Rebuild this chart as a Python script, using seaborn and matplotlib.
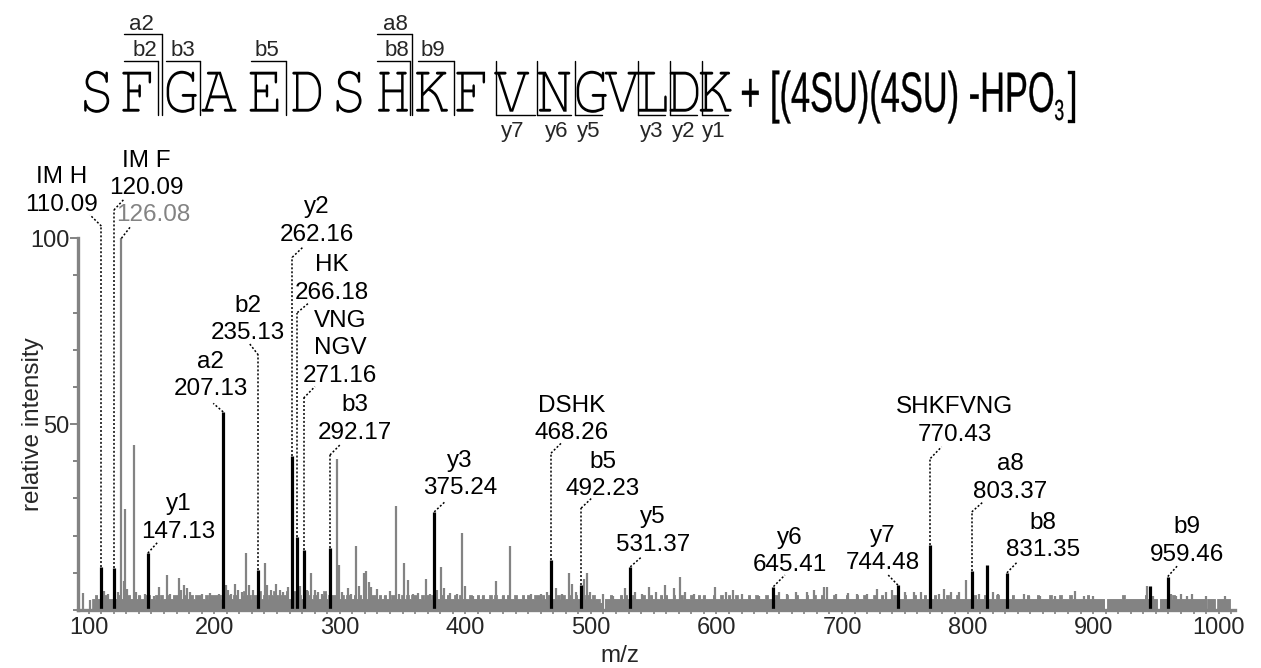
import numpy as np
import matplotlib
matplotlib.use("Agg")
import matplotlib.pyplot as plt
import seaborn as sns
from matplotlib import font_manager
from matplotlib.lines import Line2D
from matplotlib.patches import PathPatch
from matplotlib.textpath import TextPath
from matplotlib.font_manager import FontProperties
from matplotlib.transforms import Affine2D
from matplotlib.ticker import MultipleLocator

# ---- data ----
# matched fragment peaks (black)
black_mz = [110.09, 120.09, 147.13, 207.13, 235.13, 262.16, 266.18, 271.16, 292.17, 375.24,
            468.26, 492.23, 531.37, 645.41, 744.48, 770.43, 803.37, 815.7, 831.35, 945.4, 959.46]
black_h = [11.5, 11.4, 15.3, 53.3, 10.8, 41.4, 19.7, 16.1, 16.6, 26.4,
           13.5, 6.7, 11.6, 6.3, 6.7, 17.5, 10.6, 12.1, 10.0, 6.5, 9.0]

# unmatched peaks (gray)
gray_mz = [95.8, 101, 112.5, 115, 123.5, 126.08, 128.0, 129.2, 130.5, 132,
           136.4, 138, 141, 145, 152, 155.8, 162.5, 165, 171.7, 173.5,
           175.7, 178, 181, 190, 197, 204, 209, 211, 213, 216.5,
           219, 222, 225.6, 227.5, 231, 240.5, 242, 245, 249.5, 252,
           255, 258.8, 268.5, 274, 277, 280, 283, 286, 289, 297.7,
           299, 302, 306.3, 309, 312.9, 315, 319.1, 320.9, 323, 325,
           330, 336, 340, 344.9, 347, 351.5, 354.7, 358, 362, 368.8,
           372, 377.5, 380.3, 383, 388, 393, 397.4, 400, 406, 414,
           424.2, 430, 435.4, 440, 452, 460, 465, 472, 477, 482.8,
           485, 488, 494.5, 496.7, 499, 510, 518, 527, 535, 541,
           546, 552, 559.2, 566, 571.2, 575, 582, 590, 599.2, 608,
           613, 620, 634, 650, 656, 663, 672, 678, 685.8, 688,
           695, 705, 712, 720, 727.8, 735, 740, 750, 757, 763,
           777, 781, 787, 793, 798.4, 809, 820, 824, 845, 849,
           858, 870, 885.5, 893, 900, 943, 948, 962, 966, 970,
           975, 979, 990, 1005]
gray_h = [4.7, 2.6, 5.2, 4.4, 4.9, 100, 7.9, 27.2, 5.6, 3.9,
          44.5, 4.9, 3.9, 4.2, 3.9, 6.2, 9.4, 4.4, 8.5, 5.4,
          6.8, 5.9, 4.9, 4.2, 4.7, 4.4, 6.8, 5.4, 4.4, 7.1,
          5.4, 4.9, 15.3, 6.8, 5.4, 12.7, 6.8, 5.4, 7.1, 5.4,
          4.9, 6.2, 6.4, 5.4, 9.9, 5.4, 4.9, 4.4, 4.4, 40.5,
          12.1, 4.9, 6.0, 4.4, 17.2, 6.4, 10.0, 10.6, 7.4, 6.1,
          5.7, 3.9, 5.0, 28.0, 4.4, 12.7, 8.2, 4.4, 4.7, 8.3,
          4.4, 5.4, 11.5, 5.9, 4.7, 4.2, 20.7, 6.4, 3.9, 3.9,
          7.9, 3.9, 17.2, 3.9, 4.2, 4.4, 4.9, 5.9, 4.4, 9.9,
          6.9, 4.9, 8.4, 10.0, 4.9, 4.2, 3.9, 6.0, 4.9, 4.4,
          6.2, 4.9, 6.8, 5.9, 8.8, 4.9, 4.4, 3.9, 6.2, 4.9,
          5.4, 4.4, 3.9, 4.9, 4.4, 4.9, 4.9, 5.4, 6.1, 6.1,
          4.4, 4.7, 4.4, 4.4, 5.7, 4.9, 5.4, 4.9, 4.9, 4.9,
          4.4, 5.6, 4.9, 4.9, 8.0, 4.4, 4.9, 4.4, 4.4, 3.9,
          3.9, 3.9, 5.1, 3.9, 3.9, 6.4, 3.9, 4.4, 3.9, 4.2,
          3.9, 4.4, 3.9, 3.9]

# noise floor, one digit per 2 m/z starting at m/z 92 (height in % units)
floor_digits = ("0000"
                "0034334433" "4343334343" "4334433434" "3343443343" "3434433434"
                "4443454344" "3454434453" "4344543445" "3454434543" "4434534443"
                "3434434343" "4334434343" "3443343434" "4334343443" "3434334343"
                "3343343433" "4343343433" "4334343344" "3434433434" "3343433434"
                "3433203343" "3343433433" "3433433343" "4334334333" "4334343334"
                "3343343343" "3334334333" "4333433343" "3343334334" "3343333433"
                "3343334334" "3334334333" "3433343334" "3334333433" "3343334333"
                "3334333433" "3343333343" "3333433343" "3334333433" "3433333343"
                "3333303333" "3343333333" "3433330333" "3343333333" "3333303330"
                "333330")
floor_h = [int(c) for c in floor_digits]
floor_mz = [92 + 2 * i for i in range(len(floor_h))]

# annotated peaks
ann_mz = [110.09, 120.09, 126.08, 147.13, 207.13, 235.13, 262.16, 266.18, 271.16, 292.17,
          375.24, 468.26, 492.23, 531.37, 645.41, 744.48, 770.43, 803.37, 831.35, 959.46]
ann_ion = ["IM H", "IM F", "", "y1", "a2", "b2", "y2", "HK", "VNG\nNGV", "b3",
           "y3", "DSHK", "b5", "y5", "y6", "y7", "SHKFVNG", "a8", "b8", "b9"]

# label placement: text x, text y (number line), elbow y, leader end x, leader end y
ann_pos = [(78.5, 109.0, 103.3, 101.0, 106.3), (146.2, 113.5, 107.6, 128.1, 110.5),
           (151.4, 106.3, None, 133.7, 103.3), (171.4, 21.1, None, 155.4, 18.4),
           (197.2, 59.4, None, 199.2, 55.6), (227.1, 74.4, 68.6, 228.0, 71.7),
           (281.6, 100.9, 94.9, 270.9, 97.7), (294.0, 85.4, 80.0, 274.9, 82.5),
           (300.1, 63.0, 57.0, 280.2, 60.1), (312.1, 47.7, 41.7, 300.1, 44.4),
           (395.7, 32.7, None, 383.7, 29.1), (484.6, 47.5, 42.2, 476.7, 45.0),
           (509.3, 32.5, 27.4, 500.6, 30.1), (549.6, 17.5, None, 540.4, 14.3),
           (658.5, 12.1, None, 654.5, 9.4), (732.8, 12.6, None, 736.8, 9.4),
           (789.9, 47.1, 40.8, 779.3, 43.9), (833.7, 31.8, 26.4, 812.4, 29.1),
           (860.2, 16.1, None, 839.0, 12.7), (974.4, 14.8, None, 967.7, 12.1)]

# peptide header
seq_letters = list("SFGAEDSHKFVNGVLDK")
seq_x = [96.7, 136.7, 181.7, 219, 264, 306.7, 349, 393, 432, 470.7,
         511.7, 554, 591.7, 622.3, 652.3, 684, 715.7]
nterm_ions = ["a2", "b2", "b3", "b5", "a8", "b8", "b9"]
nterm_box = [(124, 161.7, 34, 141.7, 25), (124, 158.3, 61, 145, 50), (166, 200, 61, 183, 50),
             (251, 286.3, 61, 267, 50), (376.7, 412.3, 34, 395, 25), (376.7, 409.7, 61, 397, 50),
             (418.3, 454.3, 61, 433, 50)]
cterm_ions = ["y7", "y6", "y5", "y3", "y2", "y1"]
cterm_box = [(495.7, 535, 513), (537.3, 571, 556.7), (575, 601.7, 588.3),
             (638.3, 665, 651.7), (670, 696.7, 683.3), (701.7, 727.7, 714)]

GRAY = "#838383"

sns.set_theme(style="ticks")
plt.rcParams['font.family'] = ['Liberation Sans', 'DejaVu Sans']

# slab/serif face for the sequence letters
installed = {f.name for f in font_manager.fontManager.ttflist}
serif = next(n for n in ["FreeMono", "Nimbus Mono PS", "Courier New", "Liberation Serif",
                         "DejaVu Serif"] if n in installed)

W, H, DPI = 1261, 668, 100
fig = plt.figure(figsize=(W / DPI, H / DPI), dpi=DPI)
ax = fig.add_axes([78 / W, 58 / H, 1157 / W, 371.7 / H])

# spectrum: noise floor as a stepped band, then the individual peaks
sns.lineplot(x=floor_mz, y=floor_h, drawstyle="steps-mid", color=GRAY, lw=0.6, ax=ax)
ax.fill_between(floor_mz, floor_h, step="mid", color=GRAY, lw=0)
ax.vlines(gray_mz, 0, gray_h, color=GRAY, lw=1.6)
ax.vlines(black_mz, 0, black_h, color="black", lw=2.3)

peak_h = dict(zip(black_mz, black_h))
peak_h.update({m: h for m, h in zip(gray_mz, gray_h) if m == 126.08})

dots = dict(color="black", lw=1.1, linestyle=(0, (1.3, 1.3)), clip_on=False)
gap = 7.4
for mz, ion, (tx, ty, elbow, ex, ey) in zip(ann_mz, ann_ion, ann_pos):
    top = peak_h[mz]
    if elbow is not None:
        ax.plot([mz, mz], [top, elbow], **dots)
        top = elbow
    ax.plot([mz, ex], [top, ey], **dots)
    col = GRAY if mz == 126.08 else "black"
    lines = [f"{mz:.2f}"] + (ion.split("\n")[::-1] if ion else [])
    for i, s in enumerate(lines):
        ax.text(tx, ty + i * gap, s, ha="center", va="center", fontsize=17.5, color=col)

ax.set_xlim(91.5, 1013)
ax.set_ylim(0, 100)
ax.set_xticks(np.arange(100, 1001, 100))
ax.set_xticklabels([str(v) for v in range(100, 1001, 100)])
ax.xaxis.set_minor_locator(MultipleLocator(10))
ax.set_yticks([50, 100])
ax.yaxis.set_minor_locator(MultipleLocator(10))
ax.tick_params(axis="x", which="both", length=3, width=1.2, color=GRAY, labelsize=17, pad=2)
ax.tick_params(axis="y", which="major", length=5.5, width=1.4, color=GRAY, labelsize=17, pad=0.5)
ax.tick_params(axis="y", which="minor", length=3.5, width=1.4, color=GRAY)
sns.despine(ax=ax)
for side in ["left", "bottom"]:
    ax.spines[side].set_color(GRAY)
    ax.spines[side].set_linewidth(2.4)

ax.set_xlabel("m/z", fontsize=17.5)
ax.set_ylabel("relative intensity", fontsize=17.5)
ax.xaxis.set_label_coords(0.4685, -0.094)
ax.yaxis.set_label_coords(-0.029, 0.5)

# ---- header: peptide sequence with fragment brackets ----
px_to_disp = Affine2D().scale(1 / DPI) + fig.dpi_scale_trans


def path_text(s, x, y_base, cap, sx, family, ha="left", edge=0):
    fp = FontProperties(family=family)
    tp = TextPath((0, 0), s, size=1, prop=fp)
    k = cap / TextPath((0, 0), "H", size=1, prop=fp).get_extents().height
    ext = tp.get_extents()
    x0 = x - ext.x0 * k * sx
    if ha == "center":
        x0 = x - (ext.x0 + ext.width / 2) * k * sx
    tr = Affine2D().scale(k * sx, k).translate(x0, H - y_base) + px_to_disp
    fig.add_artist(PathPatch(tp, transform=tr, facecolor="black",
                             edgecolor="black" if edge else "none", lw=edge))
    return x0 + ext.x1 * k * sx


def seg(x0, y0, x1, y1):
    fig.add_artist(Line2D([x0 / W, x1 / W], [1 - y0 / H, 1 - y1 / H],
                          transform=fig.transFigure, color="black", lw=1.0))


hb = TextPath((0, 0), "H", size=1, prop=FontProperties(family=serif)).get_extents()
serif_sx = 0.75 * hb.height / hb.width
for letter, x in zip(seq_letters, seq_x):
    path_text(letter, x, 111.7, 40, serif_sx, serif, ha="center")

for ion, (x0, x1, ytop, lx, ly) in zip(nterm_ions, nterm_box):
    seg(x0, ytop, x1, ytop)
    seg(x1, ytop, x1, 115)
    fig.text(lx / W, 1 - ly / H, ion, ha="center", va="center", fontsize=16)

for ion, (x0, x1, lx) in zip(cterm_ions, cterm_box):
    seg(x0, 61, x0, 115)
    seg(x0, 115, x1, 115)
    fig.text(lx / W, 1 - 132 / H, ion, ha="center", va="center", fontsize=16)

# modification text, horizontally condensed like the original
fp = FontProperties(family="Liberation Sans")
main = "+ [(4SU)(4SU) -HPO"
ext = TextPath((0, 0), main, size=1, prop=fp).get_extents()
kk = 39 / TextPath((0, 0), "H", size=1, prop=fp).get_extents().height
sans_sx = (1053 - 742) / (ext.width * kk)
path_text(main, 742, 111.7, 39, sans_sx, "Liberation Sans", edge=0.25)
path_text("3", 1055, 120, 20, sans_sx, "Liberation Sans", edge=0.2)
path_text("]", 1068, 111.7, 39, sans_sx, "Liberation Sans", edge=0.25)

fig.savefig("out.png", dpi=DPI)
